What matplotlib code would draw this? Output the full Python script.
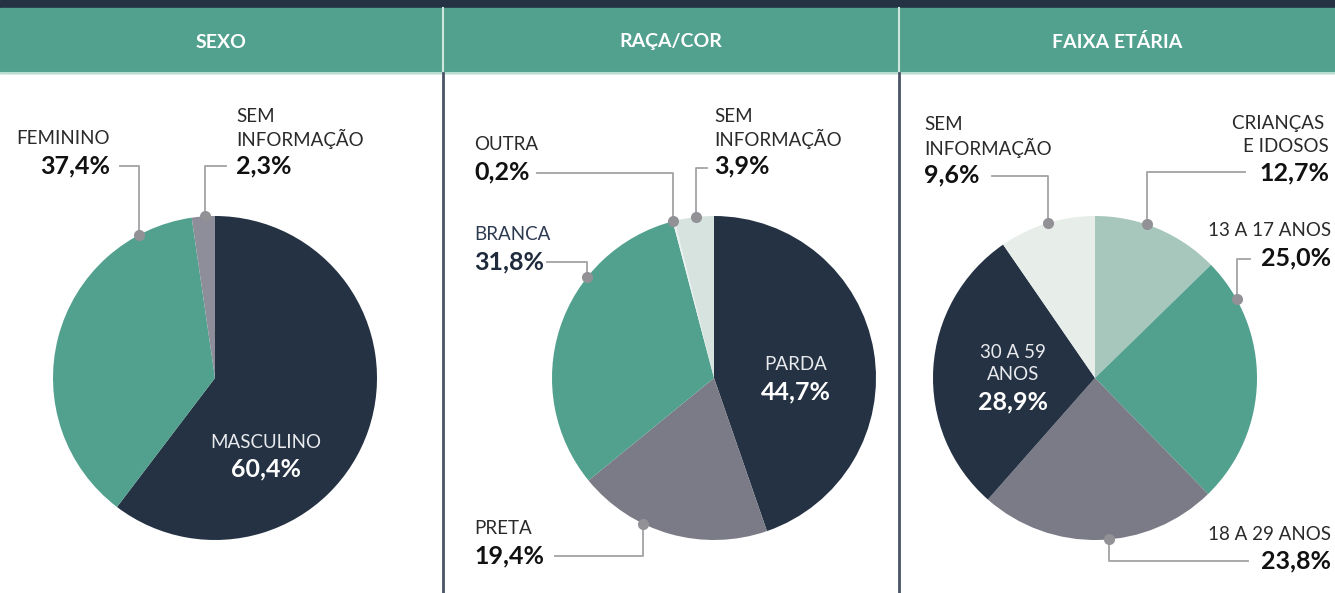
import matplotlib
matplotlib.use("Agg")
import matplotlib.pyplot as plt
from matplotlib.patches import Rectangle
import numpy as np

# data
sexo_labels = ["MASCULINO", "FEMININO", "SEM\nINFORMAÇÃO"]
sexo_values = [60.4, 37.4, 2.3]

raca_labels = ["PARDA", "PRETA", "BRANCA", "OUTRA", "SEM\nINFORMAÇÃO"]
raca_values = [44.7, 19.4, 31.8, 0.2, 3.9]

idade_labels = ["CRIANÇAS \nE IDOSOS", "13 A 17 ANOS", "18 A 29 ANOS", "30 A 59\nANOS", "SEM\nINFORMAÇÃO"]
idade_values = [12.7, 25.0, 23.8, 28.9, 9.6]

titles = ["SEXO", "RAÇA/COR", "FAIXA ETÁRIA"]

# colours
DARK = "#243243"
GREEN = "#52a08e"
GREY = "#7a7b87"
sexo_colors = [DARK, GREEN, "#8d8e99"]
raca_colors = [DARK, GREY, GREEN, "#eaf1ef", "#d6e3df"]
idade_colors = ["#a7c7bd", GREEN, GREY, DARK, "#e7eeea"]

W, H = 1335, 593
R = 162
FONT = "Lato"


def Y(y):
    return H - y


def pct(v):
    return f"{v:.1f}".replace(".", ",") + "%"


fig = plt.figure(figsize=(W / 100, H / 100), dpi=100)
ax = fig.add_axes([0, 0, 1, 1])

# header
ax.add_patch(Rectangle((0, Y(8)), W, 8, color=DARK, zorder=1))
ax.add_patch(Rectangle((0, Y(73)), W, 65, color=GREEN, zorder=1))
ax.plot([0, W], [Y(72.5), Y(72.5)], color="#b8ddd2", lw=1.5, zorder=2)
panels = [(0, 443), (443, 899), (899, W)]
for (x0, x1), t in zip(panels, titles):
    ax.text((x0 + x1) / 2, Y(42), t, color="white", fontsize=14, fontweight="bold",
            family=FONT, ha="center", va="center", zorder=3)
for xs in [443, 899]:
    ax.plot([xs, xs], [Y(8), Y(72)], color="#cfe6df", lw=1.5, zorder=2)
    ax.plot([xs, xs], [Y(73), 0], color="#4a5564", lw=2, zorder=2)

centers = [(215, 378), (714, 378), (1095, 378)]
for (cx, cy), vals, cols in zip(centers, [sexo_values, raca_values, idade_values],
                               [sexo_colors, raca_colors, idade_colors]):
    ax.pie(vals, colors=cols, startangle=90, counterclock=False, center=(cx, Y(cy)),
           radius=R, wedgeprops=dict(linewidth=0, antialiased=True))


def label_block(x, pct_y, label, value, ha, color="#2a2a2a", pct_color="#111111"):
    lines = label.split("\n")
    for k, line in enumerate(reversed(lines)):
        ax.text(x, Y(pct_y - 27 - 23 * k), line, fontsize=13.5, fontweight="normal", family=FONT,
                color=color, ha=ha, va="center", zorder=5)
    ax.text(x, Y(pct_y), pct(value), fontsize=18, fontweight="bold", family=FONT,
            color=pct_color, ha=ha, va="center", zorder=5)


def leader(cx, cy, angle, line_y, x_start):
    a = np.deg2rad(angle)
    dx = cx + R * np.cos(a)
    dy = Y(cy) + R * np.sin(a)
    ax.plot([x_start, dx, dx], [Y(line_y), Y(line_y), dy], color="#a3a3a6", lw=1.3, zorder=4)
    ax.plot(dx, dy, "o", color="#919196", markersize=8, markeredgewidth=0, zorder=6)


# SEXO
cx, cy = centers[0]
label_block(266, 469, sexo_labels[0], sexo_values[0], "center", "#e8eaee", "white")
label_block(110, 166, sexo_labels[1], sexo_values[1], "right")
leader(cx, cy, 118, 166, 120)
label_block(236, 166, sexo_labels[2], sexo_values[2], "left")
leader(cx, cy, 93.5, 166, 226)

# RAÇA/COR
cx, cy = centers[1]
label_block(796, 392, raca_labels[0], raca_values[0], "center", "#e8eaee", "white")
label_block(474, 556, raca_labels[1], raca_values[1], "left")
leader(cx, cy, 244, 556, 555)
label_block(474, 262, raca_labels[2], raca_values[2], "left", "#2c3a50", "#1f2b3d")
leader(cx, cy, 141.6, 262, 547)
label_block(474, 172, raca_labels[3], raca_values[3], "left")
leader(cx, cy, 104.5, 173, 537)
label_block(714, 166, raca_labels[4], raca_values[4], "left")
leader(cx, cy, 96.4, 168, 707)

# FAIXA ETÁRIA
cx, cy = centers[2]
label_block(1329, 173, idade_labels[0], idade_values[0], "right")
leader(cx, cy, 71.4, 172, 1245)
label_block(1331, 258, idade_labels[1], idade_values[1], "right")
leader(cx, cy, 29.1, 259, 1250)
label_block(1331, 561, idade_labels[2], idade_values[2], "right")
leader(cx, cy, -85, 561, 1248)
label_block(1013, 402, idade_labels[3], idade_values[3], "center", "#e8eaee", "white")
label_block(924, 175, idade_labels[4], idade_values[4], "left")
leader(cx, cy, 106.7, 176, 992)

ax.set_xlim(0, W)
ax.set_ylim(0, H)
ax.set_aspect("auto")
ax.axis("off")

fig.savefig("out.png", dpi=100, facecolor="white")
